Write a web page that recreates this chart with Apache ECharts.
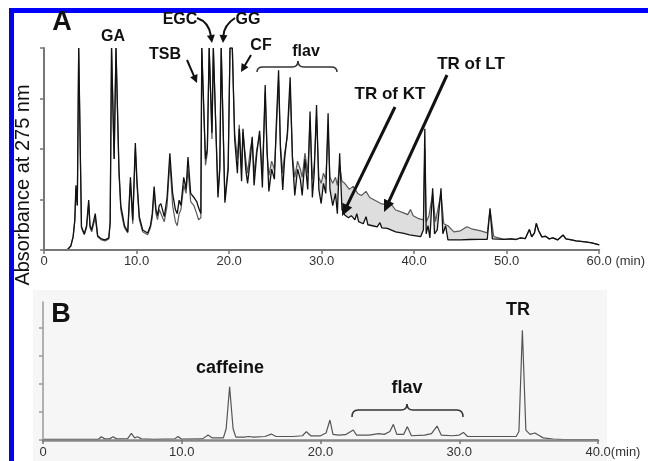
<!DOCTYPE html>
<html><head><meta charset="utf-8">
<script src="https://cdn.jsdelivr.net/npm/echarts@6/dist/echarts.min.js"></script>
<style>html,body{margin:0;padding:0;background:#fff}#c{width:648px;height:461px}</style>
</head><body><div id="c"></div>
<script>
// Panel A: retention time (min), absorbance (relative, clipped at 100)
const ktPoints = [[0,0],[2.5,0],[2.9,2],[3.15,6.6],[3.33,14.8],[3.45,32],[3.6,22],[3.75,100],[3.88,100],[4.05,11.5],[4.35,8],[4.6,12],[4.83,24.7],[4.97,12],[5.15,10],[5.35,9.5],[5.54,18],[5.8,7],[6.2,5.5],[6.6,5],[7.0,6],[7.15,14],[7.3,100],[7.42,100],[7.58,45],[7.78,100],[7.92,100],[8.1,40],[8.3,22],[8.5,17],[8.7,12],[9.05,9],[9.34,36],[9.59,14.8],[9.87,53],[10.05,34],[10.3,16.5],[10.66,9.9],[11.2,8.4],[11.5,12],[11.7,18],[11.9,31.4],[12.1,20],[12.27,17],[12.45,22],[12.63,23],[13.0,16.5],[13.3,26],[13.6,47.9],[13.9,28],[14.2,20],[14.4,18],[14.6,24.7],[14.8,22],[15.1,36],[15.35,30],[15.56,46],[15.85,28],[16.2,26],[16.5,24],[16.7,21],[16.95,18],[17.05,100],[17.25,100],[17.45,45],[17.65,50],[17.85,100],[18.0,100],[18.15,58],[18.3,100],[18.45,100],[18.8,26],[19.0,40],[19.15,100],[19.28,100],[19.55,23.4],[19.9,39.6],[20.1,100],[20.35,100],[20.6,55],[20.9,38],[21.1,60],[21.35,34],[21.5,60],[21.8,40],[22.0,33],[22.3,45],[22.5,56],[22.7,32],[23.0,48],[23.3,59],[23.6,31],[23.9,81.7],[24.1,50],[24.3,29],[24.6,40],[24.9,35],[25.1,62],[25.35,89],[25.55,50],[25.8,29.7],[26.0,45],[26.3,58],[26.6,85.5],[26.85,45],[27.1,27],[27.4,40],[27.7,35],[27.9,27],[28.2,45],[28.5,30],[28.75,68.5],[29.0,26],[29.2,38],[29.45,71.8],[29.7,30],[29.95,23],[30.2,33],[30.45,28],[30.7,67.7],[30.9,30],[31.2,22],[31.5,28],[31.7,18],[31.95,47.9],[32.2,20],[32.5,17.3],[32.9,16],[33.2,17],[33.4,16],[33.6,14.9],[33.8,18],[34.0,14],[34.5,13],[34.8,16.5],[35.0,12.5],[35.5,12],[36.0,11.5],[36.3,13.5],[36.5,11],[37.1,10.7],[38.0,9],[38.9,8.2],[39.5,7.5],[40.2,7],[40.7,6.6],[41.0,10],[41.15,60],[41.3,8],[41.5,12],[41.7,6],[42.0,30.5],[42.2,8],[42.5,10],[42.9,30.5],[43.1,8],[43.4,12],[43.65,5],[44.1,5],[45.0,5],[46.0,5.2],[47.0,5.3],[47.9,5.3],[48.2,20.6],[48.45,5.5],[49.7,5.3],[50.5,5.5],[51.0,5.2],[51.5,6],[52.0,5.6],[52.45,10.2],[52.7,6.5],[53.0,8.5],[53.2,13.2],[53.45,9.5],[53.8,6.5],[54.2,6.8],[54.6,5.5],[55.0,6],[55.5,5],[56.1,7.4],[56.4,5.5],[57.0,5],[57.5,4.5],[58.5,4],[59.2,3.5],[60.0,2.5]];

const ltPoints = [[0,0],[2.5,0],[2.9,2],[3.15,6.6],[3.33,14.8],[3.45,30],[3.6,22],[3.75,100],[3.88,100],[4.05,11],[4.35,7.5],[4.6,11],[4.83,23],[4.97,11],[5.15,9],[5.35,9],[5.54,16],[5.8,6.5],[6.2,5],[6.6,4.5],[7.0,5.5],[7.15,13],[7.3,100],[7.42,100],[7.58,45],[7.78,100],[7.92,100],[8.1,38],[8.3,20],[8.5,15],[8.7,11],[9.05,8.5],[9.34,33],[9.59,13],[9.87,50],[10.05,32],[10.3,15],[10.66,9],[11.2,7.5],[11.5,11],[11.7,16],[11.9,29],[12.1,18],[12.27,15],[12.45,20],[12.63,20],[13.0,14],[13.3,22],[13.6,44],[13.9,22],[14.2,14],[14.4,12],[14.6,18],[14.8,20],[15.1,32],[15.35,28],[15.56,40],[15.85,24],[16.2,22],[16.5,18],[16.7,15],[16.95,16],[17.05,100],[17.25,100],[17.45,42],[17.65,48],[17.85,100],[18.0,100],[18.15,55],[18.3,100],[18.45,100],[18.8,28],[19.0,42],[19.15,100],[19.28,100],[19.55,25],[19.9,42],[20.1,100],[20.35,100],[20.6,58],[20.9,45],[21.1,62],[21.35,40],[21.5,58],[21.8,45],[22.0,38],[22.3,50],[22.5,55],[22.7,38],[23.0,50],[23.3,57],[23.6,38],[23.9,78],[24.1,48],[24.3,37],[24.6,44],[24.9,40],[25.1,58],[25.35,84],[25.55,52],[25.8,38],[26.0,48],[26.3,56],[26.6,80],[26.85,46],[27.1,36],[27.4,44],[27.7,40],[27.9,36],[28.2,48],[28.5,38],[28.75,64],[29.0,35],[29.2,42],[29.45,66],[29.7,36],[29.95,33],[30.2,38],[30.45,35],[30.7,60],[30.9,36],[31.2,33],[31.5,36],[31.7,32],[31.95,42],[32.2,34],[32.5,33],[33.0,30],[33.4,31.5],[33.9,28],[34.3,27],[34.8,29],[35.2,26],[36.0,24],[36.4,23],[37.0,22.5],[37.3,24],[38.0,19.8],[38.8,18.5],[39.3,17.5],[39.6,20],[39.9,17],[40.5,15.5],[41.0,14.9],[41.15,50],[41.3,14],[41.6,17],[42.0,28],[42.3,14],[42.9,28],[43.2,13],[43.65,12],[44.3,9],[45.0,9.5],[45.7,11.5],[46.2,10.5],[47.2,9.5],[47.9,8.5],[48.2,20],[48.6,6.6],[49.7,5.3],[50.5,5.5],[51.0,5.2],[51.5,6],[52.0,5.6],[52.45,10.2],[52.7,6.5],[53.0,8.5],[53.2,13.2],[53.45,9.5],[53.8,6.5],[54.2,6.8],[54.6,5.5],[55.0,6],[55.5,5],[56.1,7.4],[56.4,5.5],[57.0,5],[57.5,4.5],[58.5,4],[59.2,3.5],[60.0,2.5]];

// Panel B: retention time (min), absorbance
const bPoints = [[0,0.5],[4.0,0.5],[4.2,2.3],[4.45,0.8],[4.8,0.8],[5.05,2.3],[5.3,0.8],[6.1,1],[6.37,4.7],[6.6,1.5],[6.8,2.3],[7.1,0.8],[8.0,0.5],[9.5,0.8],[9.73,2.5],[10.0,0.6],[11.5,0.8],[11.9,3.5],[12.2,1.5],[13.0,1.5],[13.2,8],[13.45,37.8],[13.7,8],[13.9,2],[14.5,2],[14.8,2.5],[15.2,2],[16.0,2.5],[16.45,4.2],[16.8,2.5],[18.0,2.5],[18.7,3],[18.98,5.9],[19.3,3],[20.0,3],[20.4,5],[20.68,14.2],[20.9,4],[21.3,3.5],[21.8,3.8],[22.36,7.1],[22.6,3.5],[23.5,3.5],[24.2,4.5],[24.6,4],[25.0,6],[25.25,11.1],[25.5,4],[26.0,4],[26.26,9.5],[26.55,3],[27.5,3.5],[28.0,4.5],[28.4,9.9],[28.7,3.5],[29.5,3],[30.0,3.5],[30.3,5.4],[30.6,2.5],[31.5,2.5],[33.0,2.5],[34.1,2.5],[34.3,6],[34.55,78],[34.8,7],[35.1,4],[35.45,5],[35.7,3.5],[36.05,1.5],[36.76,0.7],[37.5,0.3],[40,0.2]];

const xTicksA = ['0','10.0','20.0','30.0','40.0','50.0','60.0'];
const xTicksB = ['0','10.0','20.0','30.0','40.0'];
const yTicksB = [0,20,40,60,80];

const FONT = '"Liberation Sans", Arial, sans-serif';
const chart = echarts.init(document.getElementById('c'), null, {renderer:'canvas'});
const ZTOP = 100;

function head(x2,y2,ux,uy,L,hw){
  const bx=x2-ux*L, by=y2-uy*L;
  return {type:'polygon', z:ZTOP, shape:{points:[[x2,y2],[bx-uy*hw,by+ux*hw],[bx+uy*hw,by-ux*hw]]}, style:{fill:'#111'}};
}
function arrow(x1,y1,x2,y2,w,L,hw){
  const dx=x2-x1, dy=y2-y1, n=Math.hypot(dx,dy), ux=dx/n, uy=dy/n;
  return [
    {type:'line', z:ZTOP, shape:{x1,y1,x2:x2-ux*(L-1),y2:y2-uy*(L-1)}, style:{stroke:'#111', lineWidth:w}},
    head(x2,y2,ux,uy,L,hw)
  ];
}
function curvedArrow(x1,y1,cx,cy,x2,y2,w,L,hw){
  const dx=x2-cx, dy=y2-cy, n=Math.hypot(dx,dy), ux=dx/n, uy=dy/n;
  return [
    {type:'bezierCurve', z:ZTOP, shape:{x1,y1,cpx1:cx,cpy1:cy,x2:x2-ux*(L-1),y2:y2-uy*(L-1)}, style:{stroke:'#111', lineWidth:w, fill:null}},
    head(x2,y2,ux,uy,L,hw)
  ];
}
function brace(x1,x2,xm,yb,yh,yt){
  const st={stroke:'#333', lineWidth:1.5, fill:null};
  const r=6;
  return [
    {type:'bezierCurve', z:ZTOP, shape:{x1:x1,y1:yb,cpx1:x1,cpy1:yh,x2:x1+r,y2:yh}, style:st},
    {type:'line', z:ZTOP, shape:{x1:x1+r,y1:yh,x2:xm-r,y2:yh}, style:st},
    {type:'bezierCurve', z:ZTOP, shape:{x1:xm-r,y1:yh,cpx1:xm,cpy1:yh,x2:xm,y2:yt}, style:st},
    {type:'bezierCurve', z:ZTOP, shape:{x1:xm,y1:yt,cpx1:xm,cpy1:yh,x2:xm+r,y2:yh}, style:st},
    {type:'line', z:ZTOP, shape:{x1:xm+r,y1:yh,x2:x2-r,y2:yh}, style:st},
    {type:'bezierCurve', z:ZTOP, shape:{x1:x2-r,y1:yh,cpx1:x2,cpy1:yh,x2:x2,y2:yb}, style:st}
  ];
}
function txt(t,x,y,size,bold,extra){
  return Object.assign({type:'text', z:ZTOP, x, y, style:{text:t, font:(bold?'bold ':'')+size+'px '+FONT, fill:'#111', align:'center', verticalAlign:'middle'}}, extra||{});
}

const axisGrey = '#777';
function xLabelFmt(ticks, unit){
  return function(v){
    const i = Math.round(v/10);
    const s = ticks[i];
    if (i === ticks.length-1) return '{p| }' + s + '{u|' + unit + '}';
    return s;
  };
}

const graphics = [
  {type:'rect', z:-10, shape:{x:33,y:290,width:574,height:171}, style:{fill:'#f6f6f6'}},
  {type:'rect', z:ZTOP, shape:{x:9,y:8,width:639,height:5}, style:{fill:'#0000ff'}},
  {type:'rect', z:ZTOP, shape:{x:9,y:8,width:5,height:453}, style:{fill:'#0000ff'}},
  txt('Absorbance at 275 nm', 23, 185, 20, false, {rotation:Math.PI/2}),
  txt('A', 62, 23, 27, true),
  txt('GA', 113, 37, 16, true),
  txt('TSB', 165, 55, 16, true),
  txt('EGC', 180, 20, 16, true),
  txt('GG', 248, 20, 16, true),
  txt('CF', 261, 46, 16, true),
  txt('flav', 306, 52, 16, true),
  txt('TR of KT', 390, 94, 17, true),
  txt('TR of LT', 471, 64, 17, true),
  txt('B', 61, 315, 27, true),
  txt('caffeine', 230, 368, 18, true),
  txt('flav', 407, 388, 18, true),
  txt('TR', 518, 310, 18, true)
].concat(
  brace(257,337,298,72,67,61),
  brace(352,463,407,417,410,404),
  arrow(395,107,342,216,3,12,5.5),
  arrow(447,75,384,212,3,12,5.5),
  arrow(187,60,197,83,2,8,4),
  arrow(251,55,241,72,2,8,4),
  curvedArrow(197,18,209,22,212,43,2,8,4),
  curvedArrow(235,18,224,25,223,43,2,8,4)
);

const option = {
  animation:false,
  backgroundColor:'#fff',
  graphic: graphics,
  grid:[
    {left:44, right:45, top:48, bottom:211},
    {left:43, right:50, top:302, bottom:21}
  ],
  xAxis:[
    {type:'value', gridIndex:0, min:0, max:60, interval:10, z:10,
     axisLine:{lineStyle:{color:axisGrey, width:2}},
     axisTick:{show:true, length:4, lineStyle:{color:axisGrey, width:1.5}},
     splitLine:{show:false},
     axisLabel:{margin:5, color:'#333', fontSize:13, fontFamily:FONT, formatter:xLabelFmt(xTicksA,' (min)'),
       rich:{p:{width:33, fontSize:13}, u:{fontSize:13, color:'#333', fontFamily:FONT}}}},
    {type:'value', gridIndex:1, min:0, max:40, interval:10, z:10,
     axisLine:{lineStyle:{color:'#888', width:2.5}},
     axisTick:{show:true, length:4, lineStyle:{color:axisGrey, width:1.5}},
     splitLine:{show:false},
     axisLabel:{margin:6, color:'#333', fontSize:13, fontFamily:FONT, formatter:xLabelFmt(xTicksB,'(min)'),
       rich:{p:{width:30, fontSize:13}, u:{fontSize:13, color:'#333', fontFamily:FONT}}}}
  ],
  yAxis:[
    {type:'value', gridIndex:0, min:0, max:100, interval:25, z:10,
     axisLine:{show:true, lineStyle:{color:axisGrey, width:2}},
     axisTick:{show:true, length:4, lineStyle:{color:axisGrey, width:1.5}},
     axisLabel:{show:false}, splitLine:{show:false}},
    {type:'value', gridIndex:1, min:0, max:98, z:10,
     axisLine:{show:true, lineStyle:{color:'#999', width:1.5}},
     axisTick:{show:true, length:4, customValues:yTicksB, lineStyle:{color:'#999', width:1.5}},
     axisLabel:{show:false}, splitLine:{show:false}}
  ],
  series:[
    {name:'LT fill', type:'line', xAxisIndex:0, yAxisIndex:0, data:ltPoints, symbol:'none', silent:true,
     lineStyle:{opacity:0}, areaStyle:{color:'#dedede', opacity:1}},
    {name:'KT mask', type:'line', xAxisIndex:0, yAxisIndex:0, data:ktPoints, symbol:'none', silent:true,
     lineStyle:{opacity:0}, areaStyle:{color:'#ffffff', opacity:1}},
    {name:'LT', type:'line', xAxisIndex:0, yAxisIndex:0, data:ltPoints, symbol:'none',
     lineStyle:{color:'#5a5a5a', width:1.2}},
    {name:'KT', type:'line', xAxisIndex:0, yAxisIndex:0, data:ktPoints, symbol:'none',
     lineStyle:{color:'#111', width:1.3}},
    {name:'B', type:'line', xAxisIndex:1, yAxisIndex:1, data:bPoints, symbol:'none',
     lineStyle:{color:'#555', width:1.2}}
  ]
};
chart.setOption(option);
</script>
</body></html>
